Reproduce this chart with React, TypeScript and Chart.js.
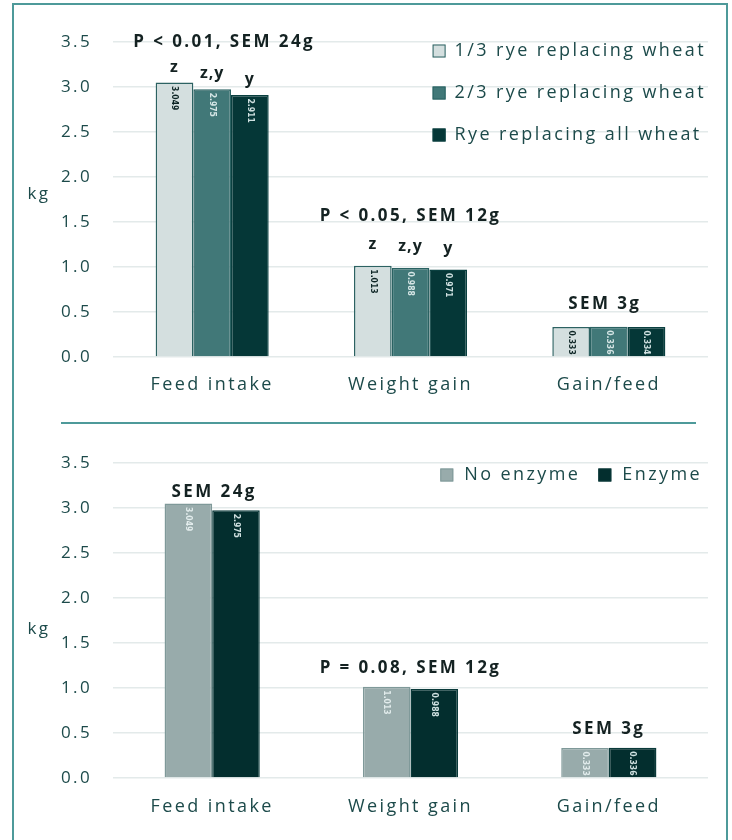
import React, { useEffect, useRef } from 'react';
import { Chart, registerables } from 'chart.js';

Chart.register(...registerables);

// ---------------- data ----------------
const categories = ['Feed intake', 'Weight gain', 'Gain/feed'];
const yAxisTitle = 'kg';
const yMin = 0;
const yMax = 3.5;
const yStep = 0.5;

const ryeLabels = ['1/3 rye replacing wheat', '2/3 rye replacing wheat', 'Rye replacing all wheat'];
const ryeOneThird = [3.049, 1.013, 0.333];
const ryeTwoThirds = [2.975, 0.988, 0.336];
const ryeAll = [2.911, 0.971, 0.334];
const ryeNotes = ['P < 0.01, SEM 24g', 'P < 0.05, SEM 12g', 'SEM 3g'];
const ryeLetters = [
  ['z', 'z,y', 'y'],
  ['z', 'z,y', 'y'],
  ['', '', ''],
];

const enzymeLabels = ['No enzyme', 'Enzyme'];
const noEnzyme = [3.049, 1.013, 0.333];
const withEnzyme = [2.975, 0.988, 0.336];
const enzymeNotes = ['SEM 24g', 'P = 0.08, SEM 12g', 'SEM 3g'];

// ---------------- styles ----------------
const FONT = '"Open Sans", "Noto Sans", sans-serif';
const SPACING = '2.4px';
const AXIS_COLOR = '#1c4a4a';
const NOTE_COLOR = '#142222';
const TEAL = '#4e9a9a';

type DS = { label: string; data: number[]; bg: string; border: string; valueColor: string };
type PanelCfg = {
  height: number;
  padTop: number;
  xAxisH: number;
  xTickPad: number;
  categoryPct: number;
  datasets: DS[];
  notes: string[];
  noteOffsets: number[];
  noteDx: number[];
  letters?: string[][];
  letterOffsets?: number[];
  legend: 'column' | 'row';
  kgOffset: number;
};

const topCfg: PanelCfg = {
  height: 423,
  padTop: 42,
  xAxisH: 66,
  xTickPad: 17,
  categoryPct: 0.57,
  datasets: [
    { label: ryeLabels[0], data: ryeOneThird, bg: '#d4dfdf', border: '#2c6262', valueColor: '#0c2424' },
    { label: ryeLabels[1], data: ryeTwoThirds, bg: '#417878', border: '#2a6262', valueColor: '#d6e6e6' },
    { label: ryeLabels[2], data: ryeAll, bg: '#053737', border: '#0a4040', valueColor: '#cfe0e0' },
  ],
  notes: ryeNotes,
  noteOffsets: [36, 45, 18],
  noteDx: [12, 0, -4],
  letters: ryeLetters,
  letterOffsets: [11, 17, 0],
  legend: 'column',
  kgOffset: 152,
};

const bottomCfg: PanelCfg = {
  height: 417,
  padTop: 40,
  xAxisH: 62,
  xTickPad: 18,
  categoryPct: 0.48,
  datasets: [
    { label: enzymeLabels[0], data: noEnzyme, bg: '#98abab', border: '#7f9999', valueColor: '#e2ecec' },
    { label: enzymeLabels[1], data: withEnzyme, bg: '#032e2e', border: '#0a3a3a', valueColor: '#cfe0e0' },
  ],
  notes: enzymeNotes,
  noteOffsets: [7, 14, 14],
  noteDx: [2, 0, 0],
  legend: 'row',
  kgOffset: 166,
};

function makePlugin(cfg: PanelCfg) {
  return {
    id: 'panelDecor',
    beforeDraw(chart: any) {
      chart.ctx.letterSpacing = SPACING;
    },
    afterDatasetsDraw(chart: any) {
      const ctx = chart.ctx;
      ctx.save();
      ctx.letterSpacing = '0px';
      chart.data.datasets.forEach((ds: any, di: number) => {
        const meta = chart.getDatasetMeta(di);
        meta.data.forEach((el: any, i: number) => {
          const v = ds.data[i] as number;
          ctx.save();
          ctx.translate(el.x, el.y + 3.5);
          ctx.rotate(Math.PI / 2);
          ctx.font = 'bold 8.5px "DejaVu Sans Condensed", "DejaVu Sans", sans-serif';
          ctx.fillStyle = cfg.datasets[di].valueColor;
          ctx.textAlign = 'left';
          ctx.textBaseline = 'middle';
          ctx.fillText(v.toFixed(3), 0, 0);
          ctx.restore();
        });
      });
      ctx.restore();
    },
    afterDraw(chart: any) {
      const ctx = chart.ctx;
      const area = chart.chartArea;
      ctx.save();
      ctx.letterSpacing = SPACING;
      const metas = chart.data.datasets.map((_: any, di: number) => chart.getDatasetMeta(di));

      // group notes + letters
      categories.forEach((_, i) => {
        const els = metas.map((m: any) => m.data[i]);
        const cx = els.reduce((s: number, e: any) => s + e.x, 0) / els.length;
        const topY = Math.min(...els.map((e: any) => e.y));
        ctx.font = `bold 17px ${FONT}`;
        ctx.fillStyle = NOTE_COLOR;
        ctx.textAlign = 'center';
        ctx.textBaseline = 'alphabetic';
        ctx.fillText(cfg.notes[i], cx + cfg.noteDx[i], topY - cfg.noteOffsets[i]);
        if (cfg.letters && cfg.letterOffsets) {
          ctx.font = `bold 16px ${FONT}`;
          ctx.letterSpacing = '1px';
          els.forEach((e: any, di: number) => {
            const t = cfg.letters![i][di];
            if (t) ctx.fillText(t, e.x, e.y - cfg.letterOffsets![i]);
          });
          ctx.letterSpacing = SPACING;
        }
      });

      // y-axis title
      ctx.font = `17px ${FONT}`;
      ctx.fillStyle = AXIS_COLOR;
      ctx.textAlign = 'center';
      ctx.textBaseline = 'middle';
      ctx.fillText(yAxisTitle, 39, area.top + cfg.kgOffset);

      // legend
      ctx.font = `18px ${FONT}`;
      ctx.textAlign = 'left';
      ctx.textBaseline = 'middle';
      const box = 13;
      const drawBox = (x: number, y: number, d: DS) => {
        ctx.fillStyle = d.bg;
        ctx.fillRect(x, y - box / 2, box, box);
        ctx.strokeStyle = d.border;
        ctx.lineWidth = 1;
        ctx.strokeRect(x + 0.5, y - box / 2 + 0.5, box - 1, box - 1);
      };
      if (cfg.legend === 'column') {
        const widths = cfg.datasets.map((d) => ctx.measureText(d.label).width);
        const maxW = Math.max(...widths);
        const textX = area.right - 2 - maxW;
        cfg.datasets.forEach((d, i) => {
          const y = area.top + 9 + i * 42;
          drawBox(textX - 22, y, d);
          ctx.fillStyle = AXIS_COLOR;
          ctx.fillText(d.label, textX, y);
        });
      } else {
        const y = area.top + 12;
        const widths = cfg.datasets.map((d) => ctx.measureText(d.label).width);
        const total = widths.reduce((s, w) => s + w + box + 11, 0) + 18 * (cfg.datasets.length - 1);
        let x = area.right - 6 - total;
        cfg.datasets.forEach((d, i) => {
          drawBox(x, y, d);
          x += box + 11;
          ctx.fillStyle = AXIS_COLOR;
          ctx.fillText(d.label, x, y);
          x += widths[i] + 18;
        });
      }
      ctx.restore();
    },
  };
}

function Panel({ cfg, top }: { cfg: PanelCfg; top: number }) {
  const ref = useRef<HTMLCanvasElement | null>(null);
  useEffect(() => {
    if (!ref.current) return;
    const chart = new Chart(ref.current, {
      type: 'bar',
      data: {
        labels: categories,
        datasets: cfg.datasets.map((d) => ({
          label: d.label,
          data: d.data,
          backgroundColor: d.bg,
          borderColor: d.border,
          borderWidth: 1.5,
          categoryPercentage: cfg.categoryPct,
          barPercentage: 1,
        })),
      },
      options: {
        responsive: false,
        animation: false,
        devicePixelRatio: 1,
        layout: { padding: { top: cfg.padTop, right: 24, left: 0, bottom: 0 } },
        plugins: {
          legend: { display: false },
          tooltip: { enabled: false },
        },
        scales: {
          x: {
            grid: { display: false, drawTicks: false },
            border: { display: false },
            ticks: {
              color: AXIS_COLOR,
              font: { family: FONT, size: 18 },
              padding: cfg.xTickPad,
            },
            afterFit: (s: any) => {
              s.height = cfg.xAxisH;
            },
          },
          y: {
            min: yMin,
            max: yMax,
            grid: { color: '#e3eaea', lineWidth: 1.5, drawTicks: false },
            border: { display: false },
            ticks: {
              stepSize: yStep,
              color: AXIS_COLOR,
              font: { family: FONT, size: 17 },
              padding: 21,
              callback: (v: any) => Number(v).toFixed(1),
            },
            afterFit: (s: any) => {
              s.width = 113;
            },
          },
        },
      } as any,
      plugins: [makePlugin(cfg)],
    });
    return () => chart.destroy();
  }, [cfg]);
  return (
    <canvas
      ref={ref}
      width={732}
      height={cfg.height}
      style={{ position: 'absolute', left: 0, top, width: 732, height: cfg.height }}
    />
  );
}

export default function App() {
  return (
    <div
      style={{
        position: 'absolute',
        left: 0,
        top: 0,
        width: 732,
        height: 840,
        overflow: 'hidden',
        background: '#ffffff',
      }}
    >
      <div
        style={{
          position: 'absolute',
          left: 12,
          top: 3,
          width: 716,
          height: 880,
          boxSizing: 'border-box',
          border: `2px solid ${TEAL}`,
        }}
      />
      <div
        style={{
          position: 'absolute',
          left: 61,
          top: 422,
          width: 635,
          height: 2,
          background: TEAL,
        }}
      />
      <Panel cfg={topCfg} top={0} />
      <Panel cfg={bottomCfg} top={423} />
    </div>
  );
}
